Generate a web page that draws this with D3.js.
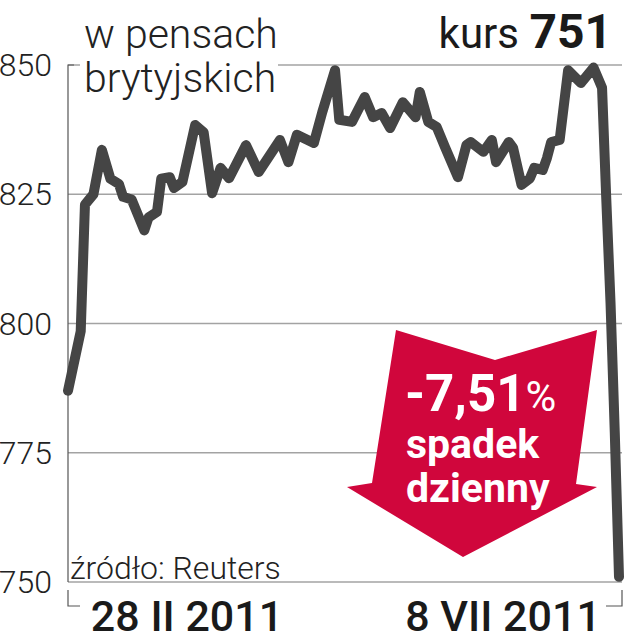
<!DOCTYPE html>
<html>
<head>
<meta charset="utf-8">
<script src="https://cdn.jsdelivr.net/npm/d3@7"></script>
<style>
  html, body { margin: 0; padding: 0; background: #fff; }
  svg { display: block; }
  text { font-family: Roboto, "Noto Sans", sans-serif; }
</style>
</head>
<body>
<svg id="chart" width="624" height="640"></svg>
<script>
// ---- data ----
const dates = [
  "2011-02-28","2011-03-03","2011-03-04","2011-03-06","2011-03-08","2011-03-10","2011-03-12","2011-03-13",
  "2011-03-15","2011-03-18","2011-03-19","2011-03-21","2011-03-22","2011-03-24","2011-03-25","2011-03-27",
  "2011-03-30","2011-04-01","2011-04-03","2011-04-05","2011-04-07","2011-04-11","2011-04-14","2011-04-19",
  "2011-04-21","2011-04-23","2011-04-27","2011-04-29","2011-05-02","2011-05-03","2011-05-06","2011-05-09",
  "2011-05-11","2011-05-13","2011-05-15","2011-05-18","2011-05-21","2011-05-22","2011-05-24","2011-05-26",
  "2011-05-28","2011-05-31","2011-06-02","2011-06-03","2011-06-06","2011-06-08","2011-06-09","2011-06-12",
  "2011-06-13","2011-06-15","2011-06-17","2011-06-18","2011-06-20","2011-06-21","2011-06-22","2011-06-24",
  "2011-06-26","2011-06-29","2011-07-02","2011-07-04","2011-07-05","2011-07-06","2011-07-07","2011-07-08"
];
const values = [
  787, 798.5, 823, 825, 833.6, 828, 827, 824.5,
  824, 818, 820.5, 821.6, 828, 828.3, 826.2, 827.4,
  838.4, 837, 825.2, 830.1, 828.1, 834.5, 829.3, 835.5,
  831.2, 836.5, 834.9, 840.9, 849, 839.4, 839, 843.8,
  839.9, 840.7, 837.8, 842.8, 839.9, 844.8, 839, 838,
  834, 828.3, 834.5, 835.1, 833.2, 835.5, 831.2, 835.1,
  834, 826.8, 828.1, 830.1, 829.7, 832, 835.1, 835.5,
  849, 846.5, 849.5, 845.6, 824, 804, 779, 751
];
const yTicks = [750, 775, 800, 825, 850];
const xTickLabels = ["28 II 2011", "8 VII 2011"];
const titleLines = ["w pensach", "brytyjskich"];
const kursLabel = "kurs";
const kursValue = "751";
const changeValue = "-7,51";
const changeLines = ["spadek", "dzienny"];
const sourceLabel = "źródło: Reuters";

// ---- setup ----
const svg = d3.select("#chart");
const parse = d3.utcParse("%Y-%m-%d");
const data = dates.map((d, i) => ({ date: parse(d), value: values[i] }));

const x = d3.scaleUtc()
  .domain([parse(dates[0]), parse(dates[dates.length - 1])])
  .range([68, 619]);
const y = d3.scaleLinear().domain([750, 850]).range([582, 65]);

const gridColor = "#a3a3a3";
const axisColor = "#555";

// gridlines
svg.append("g").selectAll("line").data(yTicks).join("line")
  .attr("x1", 68).attr("x2", 622)
  .attr("y1", d => y(d)).attr("y2", d => y(d))
  .attr("stroke", gridColor).attr("stroke-width", 1.5);

// left axis line with top tick
svg.append("path")
  .attr("d", `M74,${y(850)}H68V${y(750)}`)
  .attr("fill", "none").attr("stroke", axisColor).attr("stroke-width", 1.2);

// bottom brackets
svg.append("path")
  .attr("d", `M68,${y(750) + 8}V606H80`)
  .attr("fill", "none").attr("stroke", axisColor).attr("stroke-width", 1.2);
svg.append("path")
  .attr("d", `M606,606H622V${y(750) + 8}`)
  .attr("fill", "none").attr("stroke", axisColor).attr("stroke-width", 1.2);

// y tick labels
svg.append("g").selectAll("text").data(yTicks).join("text")
  .attr("x", 52).attr("y", d => y(d) + 11)
  .attr("text-anchor", "end")
  .attr("font-size", 32).attr("font-weight", 300).attr("fill", "#222")
  .text(d => d);

// title (with white background masking gridline)
svg.append("rect").attr("x", 80).attr("y", 10).attr("width", 198).attr("height", 90).attr("fill", "#fff");
svg.append("g").selectAll("text").data(titleLines).join("text")
  .attr("x", 84).attr("y", (d, i) => 48 + i * 44)
  .attr("font-size", 41).attr("font-weight", 300).attr("fill", "#222")
  .text(d => d);

// kurs label
const kurs = svg.append("text").attr("x", 612).attr("y", 48).attr("text-anchor", "end").attr("fill", "#1a1a1a");
kurs.append("tspan").attr("font-size", 42).attr("font-weight", 400).text(kursLabel + " ");
kurs.append("tspan").attr("font-size", 48).attr("font-weight", 700).text(kursValue);

// source
svg.append("text").attr("x", 70).attr("y", 579)
  .attr("font-size", 32).attr("font-weight", 300).attr("fill", "#222")
  .text(sourceLabel);

// x labels
svg.append("g").selectAll("text").data(xTickLabels).join("text")
  .attr("x", (d, i) => i === 0 ? 187 : 503)
  .attr("y", 631)
  .attr("text-anchor", "middle")
  .attr("font-size", 43).attr("font-weight", 500).attr("fill", "#1a1a1a")
  .text(d => d);

// arrow annotation
const arrow = svg.append("g");
arrow.append("path")
  .attr("d", "M396,330 L495,360 L597,330 L576,484 L597,487 L463,557 L347,487 L372,483 Z")
  .attr("fill", "#d0063c");
const t1 = arrow.append("text").attr("x", 405).attr("y", 411).attr("fill", "#fff");
t1.append("tspan").attr("font-size", 51).attr("font-weight", 700).text(changeValue);
t1.append("tspan").attr("font-size", 42).attr("font-weight", 400).text("%");
arrow.append("g").selectAll("text").data(changeLines).join("text")
  .attr("x", 406).attr("y", (d, i) => 458 + i * 44)
  .attr("font-size", 41).attr("font-weight", 700).attr("fill", "#fff")
  .text(d => d);

// data line
const line = d3.line().x(d => x(d.date)).y(d => y(d.value));
svg.append("path").datum(data)
  .attr("d", line)
  .attr("fill", "none")
  .attr("stroke", "#454545")
  .attr("stroke-width", 10)
  .attr("stroke-linejoin", "round")
  .attr("stroke-linecap", "round");
</script>
</body>
</html>
